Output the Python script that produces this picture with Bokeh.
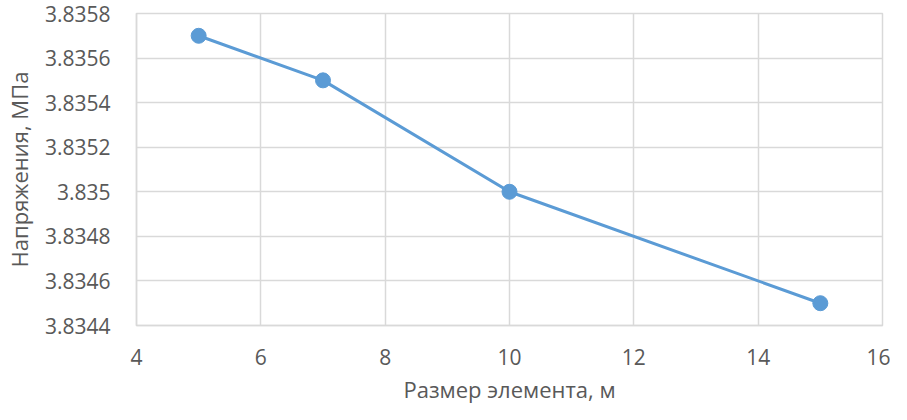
from bokeh.plotting import figure
from bokeh.models import FixedTicker, CustomJSTickFormatter, Range1d
from bokeh.embed import file_html
from bokeh.resources import INLINE

element_size = [5, 7, 10, 15]
stress = [3.8357, 3.8355, 3.8350, 3.8345]
x_ticks = [4, 6, 8, 10, 12, 14, 16]
y_ticks = [3.8344, 3.8346, 3.8348, 3.8350, 3.8352, 3.8354, 3.8356, 3.8358]

FONT = "Open Sans"
TXT = "#595959"
GRID = "#d9d9d9"
BLUE = "#5b9bd5"

p = figure(width=890, height=412, output_backend="svg", toolbar_location=None,
           x_range=Range1d(4, 16), y_range=Range1d(3.8344, 3.8358),
           min_border_left=126, min_border_right=8, min_border_top=13, min_border_bottom=87)
p.outline_line_color = GRID
p.outline_line_width = 1.5
p.background_fill_color = "white"
p.border_fill_color = "white"

p.line(element_size, stress, line_color=BLUE, line_width=3)
p.scatter(element_size, stress, size=15, fill_color=BLUE, line_color=BLUE)

p.xaxis.ticker = FixedTicker(ticks=x_ticks)
p.yaxis.ticker = FixedTicker(ticks=y_ticks)
p.yaxis.formatter = CustomJSTickFormatter(code="return String(Number(tick.toFixed(4)));")

for ax in (p.xaxis[0], p.yaxis[0]):
    ax.major_tick_line_color = None
    ax.minor_tick_line_color = None
    ax.axis_line_color = GRID
    ax.axis_line_width = 1.5
    ax.major_label_text_font = FONT
    ax.major_label_text_font_size = "21px"
    ax.major_label_text_color = TXT
    ax.axis_label_text_font = FONT
    ax.axis_label_text_font_size = "22px"
    ax.axis_label_text_font_style = "normal"
    ax.axis_label_text_color = TXT

p.xaxis.axis_label = "Размер элемента, м"
p.yaxis.axis_label = "Напряжения, МПа"
p.xaxis.major_label_standoff = 17
p.yaxis.major_label_standoff = 20
p.xaxis.axis_label_standoff = 6
p.yaxis.axis_label_standoff = 8

p.grid.grid_line_color = GRID
p.grid.grid_line_width = 1.5

open("out.html", "w").write(file_html(p, INLINE))
